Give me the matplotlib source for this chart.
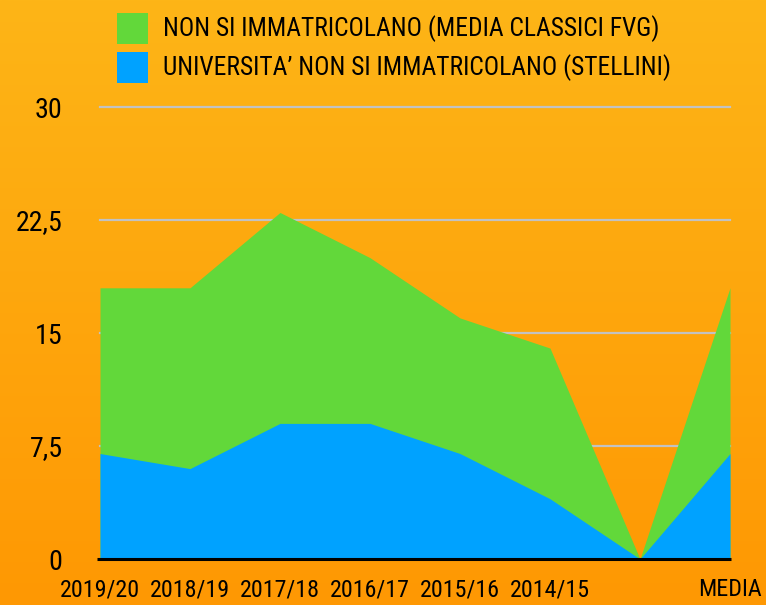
import matplotlib
matplotlib.use("Agg")
import matplotlib.pyplot as plt
import numpy as np
from matplotlib.patches import Rectangle
from matplotlib import font_manager

# ---- data ----
categories = ["2019/20", "2018/19", "2017/18", "2016/17", "2015/16", "2014/15", "", "MEDIA"]
green_vals = [18, 18, 23, 20, 16, 14, 0, 18]   # NON SI IMMATRICOLANO (MEDIA CLASSICI FVG)
blue_vals = [7, 6, 9, 9, 7, 4, 0, 7]           # UNIVERSITA' NON SI IMMATRICOLANO (STELLINI)
green_label = "NON SI IMMATRICOLANO (MEDIA CLASSICI FVG)"
blue_label = "UNIVERSITA\u2019 NON SI IMMATRICOLANO (STELLINI)"
yticks = [0, 7.5, 15, 22.5, 30]
ytick_labels = ["0", "7,5", "15", "22,5", "30"]

GREEN = "#62D83A"
BLUE = "#00A2FF"

names = {f.name for f in font_manager.fontManager.ttflist}
cands = ["Roboto Condensed", "Liberation Sans Narrow", "Open Sans Condensed", "Roboto", "Liberation Sans"]
fam = [c for c in cands if c in names][:1] + ["DejaVu Sans"]
plt.rcParams["font.family"] = fam

W, H = 766, 605
fig = plt.figure(figsize=(W / 100, H / 100), dpi=100)
renderer = fig.canvas.get_renderer()

def fit_size(text, target_px, base=20):
    t = fig.text(0, 0, text, fontsize=base)
    w = t.get_window_extent(renderer).width
    t.remove()
    return base * target_px / w

# background gradient
bg = fig.add_axes([0, 0, 1, 1], zorder=-10)
top = np.array([253, 181, 23]) / 255
bot = np.array([255, 152, 3]) / 255
t = np.linspace(0, 1, 256)[:, None]
grad = top[None, :] * (1 - t) + bot[None, :] * t
bg.imshow(grad[:, None, :], aspect="auto", extent=[0, 1, 0, 1])
bg.axis("off")

# main axes
left, right = 100 / W, 730 / W
ybot, ytop = 1 - 559 / H, 1 - 107 / H
ax = fig.add_axes([left, ybot, right - left, ytop - ybot])
ax.patch.set_alpha(0)
x = np.arange(len(categories))
ax.set_xlim(0, len(categories) - 1)
ax.set_ylim(0, 30)

for yv in yticks[1:]:
    ax.axhline(yv, color="#C2C2C2", lw=1.6, zorder=1, clip_on=False)

ax.fill_between(x, 0, green_vals, color=GREEN, lw=0, zorder=2)
ax.fill_between(x, 0, blue_vals, color=BLUE, lw=0, zorder=3)

ax.plot([-0.03, len(categories) - 1 + 0.01], [0, 0], color="black", lw=2.2, zorder=5, clip_on=False,
        solid_capstyle="butt")

for s in ax.spines.values():
    s.set_visible(False)

ysize = min(fit_size("22,5", 47), 21)
xsize = min(fit_size("2019/20", 80), 21)
ax.set_yticks(yticks)
ax.set_yticklabels(ytick_labels, fontsize=ysize)
ax.set_xticks(x)
ax.set_xticklabels(categories, fontsize=xsize)
ax.tick_params(axis="y", length=0, pad=27)
ax.tick_params(axis="x", length=0, pad=14)

# legend (manual)
lsize = min(fit_size(green_label, 497), 23)
def leg(y_center_px, color, text):
    h = 31
    w = 31
    fig.patches.append(Rectangle((117 / W, 1 - (y_center_px + h / 2) / H), w / W, h / H,
                                 transform=fig.transFigure, color=color, lw=0))
    fig.text(163 / W, 1 - y_center_px / H, text, fontsize=lsize, va="center", ha="left")

leg(28.5, GREEN, green_label)
leg(67.5, BLUE, blue_label)

fig.savefig("out.png", dpi=100)
